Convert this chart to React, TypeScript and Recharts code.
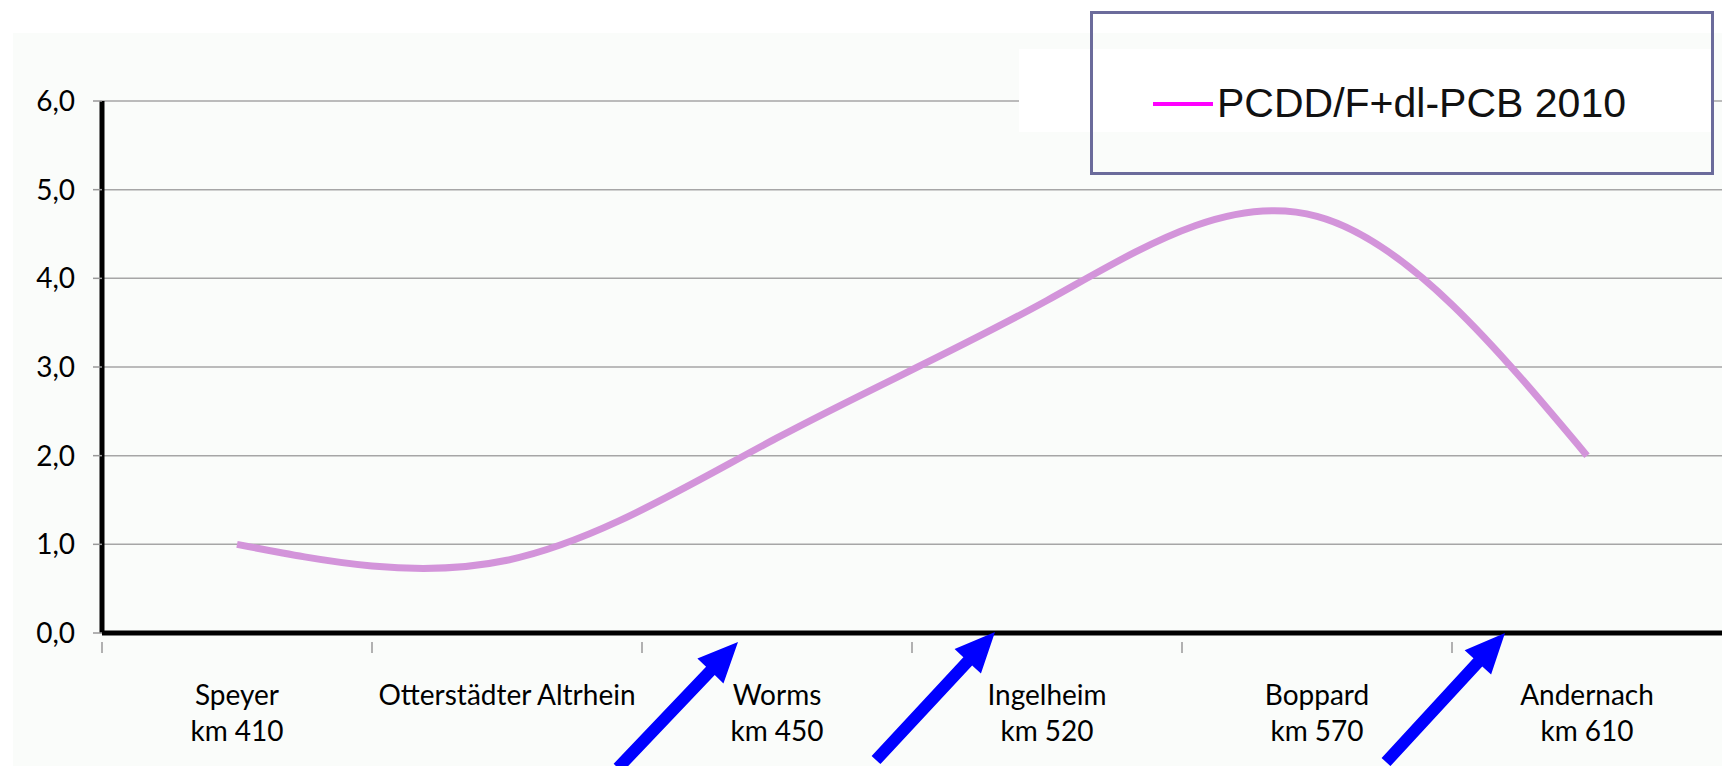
import { LineChart, Line, XAxis, YAxis, CartesianGrid, Legend } from 'recharts'

const sites = ['Speyer', 'Otterstädter Altrhein', 'Worms', 'Ingelheim', 'Boppard', 'Andernach']
const kms = ['km 410', '', 'km 450', 'km 520', 'km 570', 'km 610']
const values2010 = [1.0, 0.82, 2.2, 3.75, 4.7, 2.0]
const yTicks = [0, 1, 2, 3, 4, 5, 6]
const seriesName = 'PCDD/F+dl-PCB 2010'

// blue annotation arrows: tail -> tip
const arrows = [
  { from: [618, 768], to: [738, 642] },
  { from: [876, 760], to: [995, 632] },
  { from: [1386, 762], to: [1505, 633] },
]

const W = 1722
const H = 766
const LEFT = 102
const HALF_BAND = (W - LEFT) / sites.length / 2
const FONT = 'Lato, "Open Sans", sans-serif'

const data = sites.map((s, i) => ({ site: s, km: kms[i], v: values2010[i] }))

function arrowPoints(from: number[], to: number[]) {
  const dx = to[0] - from[0]
  const dy = to[1] - from[1]
  const len = Math.hypot(dx, dy)
  const ux = dx / len
  const uy = dy / len
  const px = -uy
  const py = ux
  const shaft = 6
  const head = 18
  const headLen = 40
  const bx = to[0] - ux * headLen
  const by = to[1] - uy * headLen
  const pts = [
    [from[0] + px * shaft, from[1] + py * shaft],
    [bx + px * shaft, by + py * shaft],
    [bx + px * head, by + py * head],
    [to[0], to[1]],
    [bx - px * head, by - py * head],
    [bx - px * shaft, by - py * shaft],
    [from[0] - px * shaft, from[1] - py * shaft],
  ]
  return pts.map((p) => p.join(',')).join(' ')
}

function SiteTick(props: any) {
  const { x, y, index, payload } = props
  const km = kms[index]
  return (
    <g>
      <line x1={x - HALF_BAND} x2={x - HALF_BAND} y1={y + 3} y2={y + 14} stroke="#999" strokeWidth={1.5} />
      <text x={x} y={y + 66} textAnchor="middle" fontSize={28} fontFamily={FONT} fill="#000">
        {payload.value}
      </text>
      {km && (
        <text x={x} y={y + 102} textAnchor="middle" fontSize={28} fontFamily={FONT} fill="#000">
          {km}
        </text>
      )}
    </g>
  )
}

function LegendBox() {
  return (
    <div style={{ position: 'relative', width: 0, height: 0 }}>
      <div style={{ position: 'absolute', left: 0, top: 38, width: 695, height: 83, background: '#fff' }} />
      <div
        style={{
          position: 'absolute',
          left: 71,
          top: 0,
          width: 618,
          height: 158,
          border: '3px solid #6b6b9b',
        }}
      />
      <div style={{ position: 'absolute', left: 134, top: 91, width: 60, height: 4, background: '#ff00ff' }} />
      <div
        style={{
          position: 'absolute',
          left: 198,
          top: 66,
          fontFamily: '"Liberation Sans", Arial, sans-serif',
          fontSize: 41,
          lineHeight: '52px',
          color: '#111',
          whiteSpace: 'nowrap',
        }}
      >
        {seriesName}
      </div>
    </div>
  )
}

export default function App() {
  return (
    <div style={{ position: 'fixed', left: 0, top: 0, width: W, height: H, background: '#fff', overflow: 'hidden' }}>
      <div style={{ position: 'absolute', left: 13, top: 33, right: 0, bottom: 0, background: '#fafcfa' }} />
      <div style={{ position: 'absolute', left: 0, top: 0 }}>
        <LineChart width={W} height={H} data={data} margin={{ top: 101, right: 0, left: 0, bottom: 0 }}>
          <CartesianGrid vertical={false} stroke="#a6a6a6" strokeWidth={1.5} />
          <XAxis
            dataKey="site"
            scale="band"
            height={133}
            axisLine={{ stroke: '#000', strokeWidth: 5 }}
            tickLine={false}
            tickMargin={0}
            interval={0}
            tick={<SiteTick />}
          />
          <YAxis
            width={LEFT}
            domain={[0, 6]}
            ticks={yTicks}
            tickFormatter={(v: number) => v.toFixed(1).replace('.', ',')}
            axisLine={{ stroke: '#000', strokeWidth: 5 }}
            tickLine={{ stroke: '#999', strokeWidth: 1.5 }}
            tickSize={9}
            tickMargin={18}
            tick={{ fontSize: 28, fontFamily: FONT, fill: '#000' }}
          />
          <Legend
            layout="horizontal"
            verticalAlign="middle"
            align="center"
            content={() => <LegendBox />}
            wrapperStyle={{ position: 'absolute', left: 1019, top: 11, width: 0, height: 0 }}
          />
          <Line
            name={seriesName}
            dataKey="v"
            type="natural"
            stroke="#d394da"
            strokeWidth={7}
            dot={false}
            isAnimationActive={false}
          />
        </LineChart>
      </div>
      <svg width={W} height={H} style={{ position: 'absolute', left: 0, top: 0, pointerEvents: 'none' }}>
        {arrows.map((a, i) => (
          <polygon key={i} points={arrowPoints(a.from, a.to)} fill="#0000ff" />
        ))}
      </svg>
    </div>
  )
}
